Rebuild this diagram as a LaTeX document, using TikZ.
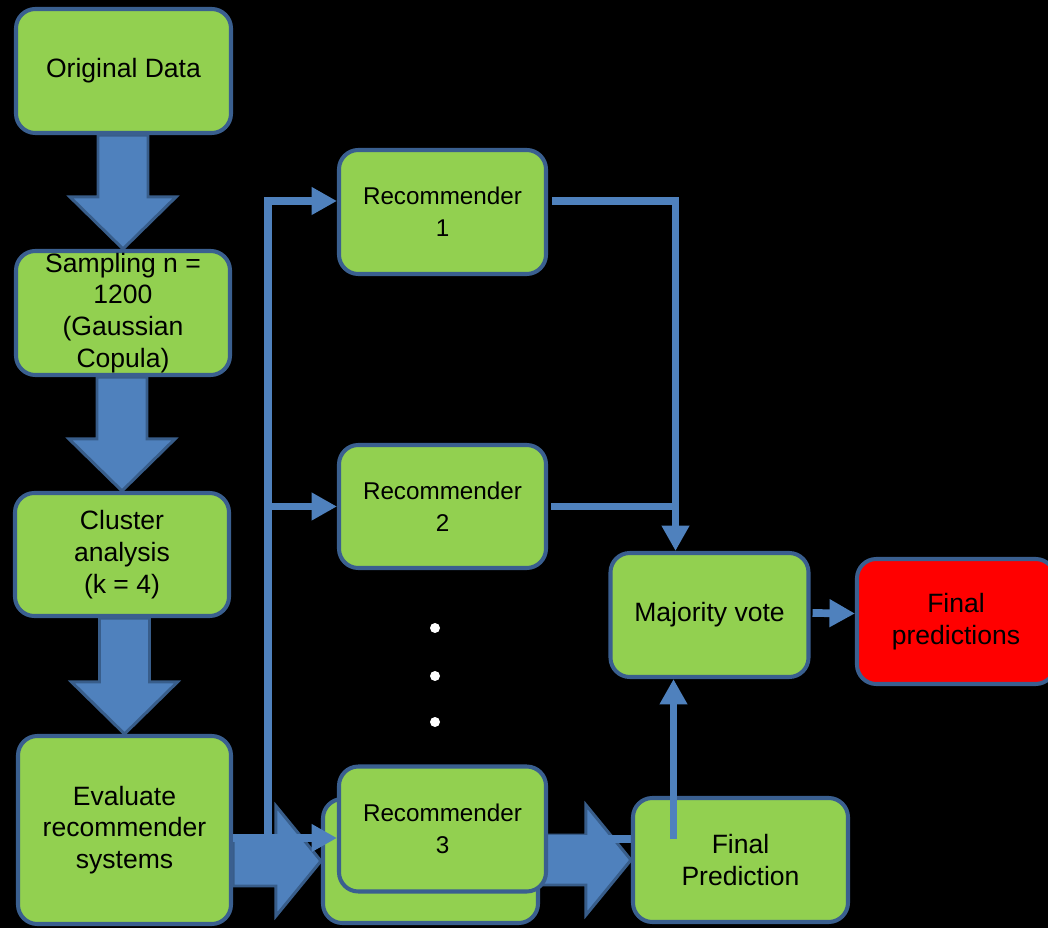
\documentclass[tikz,border=0pt]{standalone}
\usepackage{fontspec}
\setmainfont{Liberation Sans}
\usetikzlibrary{calc,arrows.meta,backgrounds}
\definecolor{boxgreen}{HTML}{92D050}
\definecolor{boxedge}{HTML}{3A5F8F}
\definecolor{arrowblue}{HTML}{4F81BD}
\definecolor{arrowedge}{HTML}{385D8A}
\tikzset{
	box/.style={rectangle, rounded corners=11pt, draw=boxedge, line width=2.3pt, fill=boxgreen, align=center, inner sep=0pt, font=\fontsize{15.1}{18.1}\selectfont},
	redbox/.style={box, fill=red},
	recbox/.style={box, font=\fontsize{13.8}{18.1}\selectfont},
	blockarrow/.style={fill=arrowblue, draw=arrowedge, line width=1.7pt, line join=miter},
	link/.style={draw=arrowblue, line width=4.4pt},
	linkarrow/.style={link, -{Triangle[length=14.5pt,width=15pt]}},
}
\newcommand{\bigdown}[2]{
	\draw[blockarrow] ($(#2.north |- #1.south)+(-25,0)$) -- ($(#2.north |- #1.south)+(25,0)$)
		-- ($(#2.north)+(25,-52)$) -- ($(#2.north)+(53,-52)$) -- (#2.north)
		-- ($(#2.north)+(-53,-52)$) -- ($(#2.north)+(-25,-52)$) -- cycle;
}
\newcommand{\bigright}[2]{
	\draw[blockarrow] ($(#1.east |- #2.west)+(0,-25)$) -- ($(#2.west)+(-45,-25)$)
		-- ($(#2.west)+(-45,-55)$) -- (#2.west) -- ($(#2.west)+(-45,55)$)
		-- ($(#2.west)+(-45,25)$) -- ($(#1.east |- #2.west)+(0,25)$) -- cycle;
}
\begin{document}
\begin{tikzpicture}[x=0.02cm, y=-0.02cm]
\useasboundingbox (0,0) rectangle (1048,928);
\foreach \x/\y/\w/\h/\s/\n/\t in {
	123.5/71/215/124/box/orig/{Original Data}%
	,123/313/214/124/box/samp/{Sampling n =\\1200\\(Gaussian\\Copula)}%
	,122/554.5/214/123/box/clus/{Cluster\\analysis\\(k = 4)}%
	,124.5/830/213/188/box/eval/{Evaluate\\recommender\\systems}%
	,442.5/212/207/124/recbox/rec1/{Recommender\\1}%
	,442.5/506.5/207/123/recbox/rec2/{Recommender\\2}%
	,430.5/861/215/124/box/rec3b/{}%
	,442.5/829/207/125/recbox/rec3/{Recommender\\3}%
	,709.5/615/198/124/box/vote/{Majority vote}%
	,956/621.5/198/125/redbox/final/{Final\\predictions}%
	,740.5/860/215/124/box/fpred/{Final\\Prediction}%
}{
	\node[\s, minimum width=\w*0.02cm, minimum height=\h*0.02cm](\n) at(\x,\y) {\t};
}

\foreach \y in {628,676,722}{
	\fill[white] (435,\y) circle (5);
}

\coordinate (busin) at ($(eval.east)+(0,8)$);
\coordinate (bus) at ($(busin)+(35,0)$);
\coordinate (votein) at ($(vote.north)+(-34,0)$);
\coordinate (voteout) at ($(vote.south)+(-36,0)$);
\coordinate (rec3out) at ($(rec3.east)+(0,10)$);

\begin{scope}[on background layer]
	\fill[black] (0,0) rectangle (1048,928);
	\bigdown{orig}{samp}
	\bigdown{samp}{clus}
	\bigdown{clus}{eval}
	\bigright{eval}{rec3b}
	\bigright{rec3b}{fpred}
	\draw[link] (rec3out) -- (rec3out -| fpred.west);
\end{scope}

\draw[linkarrow] (busin) -- (busin -| rec3.west);
\draw[linkarrow] (bus) |- ($(rec1.west)+(0,-11)$);
\draw[linkarrow] (bus |- rec2.west) -- (rec2.west);
\draw[linkarrow] ($(rec1.east)+(4,-11)$) -| (votein);
\draw[link] ($(rec2.east)+(3,0)$) -- (rec2.east -| votein);
\draw[linkarrow] (rec3out -| voteout) -- (voteout);
\draw[linkarrow] ($(vote.east)+(2,-2)$) -- ($(final.west)+(0,-8)$);
\end{tikzpicture}
\end{document}
